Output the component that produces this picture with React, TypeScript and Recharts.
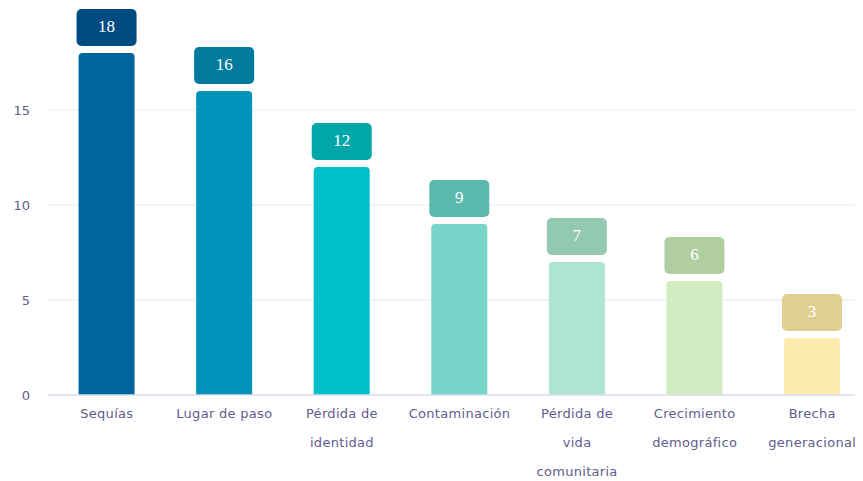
import { Bar, BarChart, CartesianGrid, Cell, LabelList, XAxis, YAxis } from 'recharts';

// Datos
const categorias = ['Sequías', 'Lugar de paso', 'Pérdida de identidad', 'Contaminación', 'Pérdida de vida comunitaria', 'Crecimiento demográfico', 'Brecha generacional'];
const valores = [18, 16, 12, 9, 7, 6, 3];
const lineasEtiqueta = [
    ['Sequías'],
    ['Lugar de paso'],
    ['Pérdida de', 'identidad'],
    ['Contaminación'],
    ['Pérdida de', 'vida', 'comunitaria'],
    ['Crecimiento', 'demográfico'],
    ['Brecha', 'generacional'],
];
const coloresBarra = ['#00659c', '#0093b9', '#00c1c9', '#78d4c9', '#b0e4d4', '#d1ecc0', '#feebb0'];
const coloresEtiqueta = ['#004c82', '#007a9d', '#00a6a8', '#5ab8ad', '#93c8b2', '#b0cea0', '#e0cf91'];
const ticksY = [0, 5, 10, 15];

const data = categorias.map((nombre, i) => ({ nombre, valor: valores[i], idx: i }));

const fuente = "'DejaVu Sans', sans-serif";

const TickX = (props: any) => {
    const { x, y, payload } = props;
    const lineas = lineasEtiqueta[payload.index] ?? [payload.value];
    return (
        <g transform={`translate(${x},${y})`}>
            {lineas.map((l, i) => (
                <text key={i} x={0} y={i * 29} dy={15} textAnchor="middle" fill="#615c8c" fontSize={13} letterSpacing={0.3} fontFamily={fuente}>
                    {l}
                </text>
            ))}
        </g>
    );
};

const Etiqueta = (props: any) => {
    const { x, y, width, value, index } = props;
    const h = 37;
    const top = y - 7 - h;
    return (
        <g>
            <rect x={x - 2} y={top} width={width + 4} height={h} rx={5} ry={5} fill={coloresEtiqueta[index]} />
            <text x={x + width / 2} y={top + h / 2 + 1} textAnchor="middle" dominantBaseline="middle" fill="#ffffff" fontSize={17} fontFamily="'Liberation Serif', serif">
                {value}
            </text>
        </g>
    );
};

const App = () => {
    return (
        <div style={{ width: 855, overflow: 'hidden' }}>
            <BarChart
                width={863}
                height={473}
                data={data}
                margin={{ top: 45, right: 0, bottom: 16, left: 0 }}
                barCategoryGap="26%"
            >
                <CartesianGrid vertical={false} stroke="#e9e9ee" horizontalValues={[5, 10, 15]} />
                <XAxis
                    dataKey="nombre"
                    interval={0}
                    tickLine={false}
                    axisLine={{ stroke: '#dadeee', strokeWidth: 1.5 }}
                    height={70}
                    tick={<TickX />}
                />
                <YAxis
                    domain={[0, 18]}
                    ticks={ticksY}
                    width={40}
                    tickLine={false}
                    axisLine={false}
                    tickMargin={12}
                    tick={{ fill: '#615c8c', fontSize: 13, fontFamily: fuente }}
                />
                <Bar dataKey="valor" radius={[4, 4, 0, 0]} isAnimationActive={false}>
                    {data.map((d, i) => (
                        <Cell key={d.nombre} fill={coloresBarra[i]} />
                    ))}
                    <LabelList dataKey="valor" content={<Etiqueta />} />
                </Bar>
            </BarChart>
        </div>
    );
};

export default App;
